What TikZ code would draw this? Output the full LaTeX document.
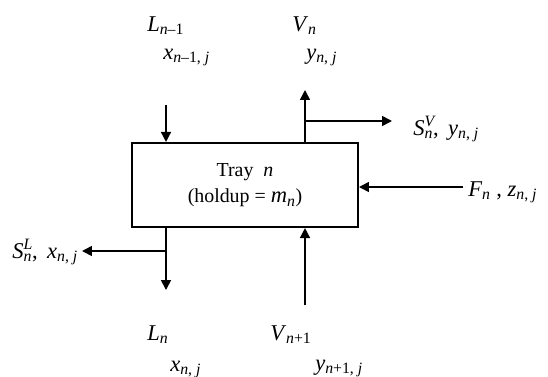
\documentclass[tikz,border=0pt]{standalone}
\usepackage{fontspec}
\setmainfont{Liberation Serif}
\usetikzlibrary{arrows.meta, positioning}
\tikzset{
  % --- Dia va dong --------------------------------------------
  tray/.style={draw, line width=1.5pt, minimum width=5.99cm,
    minimum height=2.23cm, align=center,
    font=\fontsize{15}{20}\selectfont},
  strm/.style={-{Triangle[length=7.5pt, width=7.5pt]}, line width=1.2pt},
  lbl/.style={font=\fontsize{17}{20}\selectfont, inner sep=0pt,
    anchor=base west}
}
\newcommand{\dn}[1]{\textsubscript{#1}}
\newcommand{\supsub}[2]{\rlap{\textsuperscript{#1}}\textsubscript{#2}}

\begin{document}
\begin{tikzpicture}[x=0.0265cm, y=-0.0265cm]
  \useasboundingbox (0,0) rectangle (548,376);

  % --- Dia n ---------------------------------------------------------
  \node[tray] (tray) at (245,185)
    {Tray\ \ \textit{n}\\(holdup = {\fontsize{17}{20}\selectfont\textit{m}\dn{\textit{n}}})};

  % --- Nhan tren -------------------------------------------------------
  \node[lbl] (Lin)  at (147,31) {\textit{L}\dn{\textit{n}–1}};
  \node[lbl] (xin)  at (163,59) {\textit{x}\dn{\textit{n}–1, \textit{j}}};
  \node[lbl] (Vout) at (292,31) {\textit{V}\dn{\textit{n}}};
  \node[lbl] (yout) at (306,59) {\textit{y}\dn{\textit{n}, \textit{j}}};

  % --- Nhan ben ----------------------------------------------------------
  \node[lbl] (SV)   at (413,135) {\textit{S}\supsub{\textit{V}}{\textit{n}},\, \textit{y}\dn{\textit{n}, \textit{j}}};
  \node[lbl] (feed) at (468,196) {\textit{F}\dn{\textit{n}} , \textit{z}\dn{\textit{n}, \textit{j}}};
  \node[lbl] (SL)   at (12,258)  {\textit{S}\supsub{\textit{L}}{\textit{n}},\, \textit{x}\dn{\textit{n}, \textit{j}}};

  % --- Nhan duoi ---------------------------------------------------------
  \node[lbl] (Lout) at (147,340) {\textit{L}\dn{\textit{n}}};
  \node[lbl] (xout) at (170,371) {\textit{x}\dn{\textit{n}, \textit{j}}};
  \node[lbl] (Vin)  at (270,340) {\textit{V}\dn{\textit{n}+1}};
  \node[lbl] (yin)  at (315,370) {\textit{y}\dn{\textit{n}+1, \textit{j}}};

  % --- Diem dau mui ten --------------------------------------------------
  \coordinate (lq) at (166,105);
  \coordinate (vt) at (305,90);
  \coordinate (vb) at (305,121);
  \coordinate (ve) at (392,121);
  \coordinate (fs) at (463,187);
  \coordinate (lb) at (166,290);
  \coordinate (lm) at (166,251);
  \coordinate (le) at (82,251);
  \coordinate (vs) at (305,305);

  % --- Dong vao / ra -----------------------------------------------------
  \draw[strm] (lq) -- (tray.north -| lq);
  \draw[strm] (tray.north -| vt) -- (vt);
  \draw[strm] (vb) -- (ve);
  \draw[strm] (fs) -- (fs -| tray.east);
  \draw[strm] (tray.south -| lb) -- (lb);
  \draw[strm] (lm) -- (le);
  \draw[strm] (vs) -- (tray.south -| vs);

\end{tikzpicture}
\end{document}
